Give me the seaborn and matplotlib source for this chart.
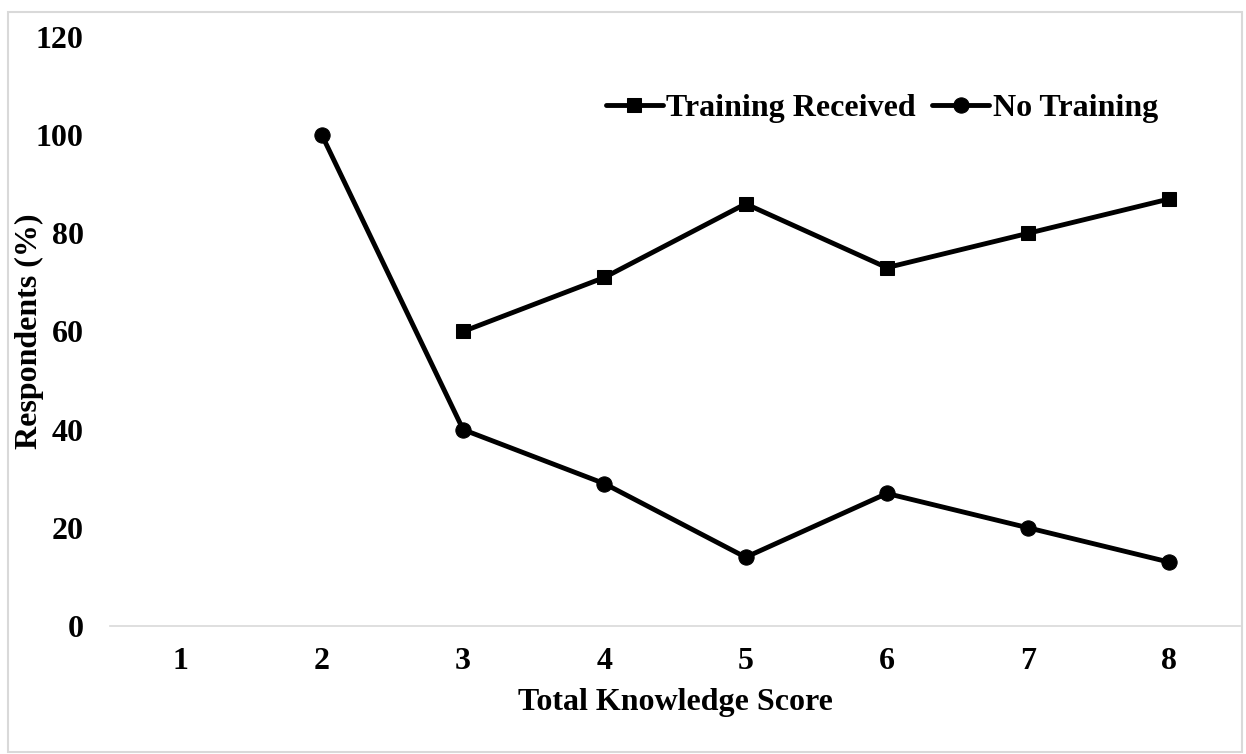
import numpy as np
import pandas as pd
import matplotlib.pyplot as plt
import seaborn as sns
from matplotlib.patches import Rectangle

# data
scores = [1, 2, 3, 4, 5, 6, 7, 8]
training_received = [np.nan, np.nan, 60, 71, 86, 73, 80, 87]
no_training = [np.nan, 100, 40, 29, 14, 27, 20, 13]

df = pd.DataFrame({
    "Score": scores,
    "Training Received": training_received,
    "No Training": no_training,
})

sns.set_theme(style="white")
plt.rcParams["font.family"] = ["Liberation Serif", "DejaVu Serif"]
plt.rcParams["font.weight"] = "bold"
plt.rcParams["text.color"] = "black"
plt.rcParams["xtick.color"] = "black"
plt.rcParams["ytick.color"] = "black"
plt.rcParams["axes.labelcolor"] = "black"

fs = 23

fig = plt.figure(figsize=(12.46, 7.54), dpi=100)
ax = fig.add_axes([0.0883, 0.1698, 0.9069, 0.7812])

sns.lineplot(data=df, x="Score", y="Training Received", ax=ax, color="black",
             linewidth=3.5, marker="s", markersize=10, markeredgecolor="black",
             label="Training Received")
sns.lineplot(data=df, x="Score", y="No Training", ax=ax, color="black",
             linewidth=3.5, marker="o", markersize=11, markeredgecolor="black",
             label="No Training")

ax.set_xlim(0.5, 8.5)
ax.set_ylim(0, 120)
ax.set_xticks(scores)
ax.set_yticks(range(0, 121, 20))
ax.tick_params(axis="both", length=0, labelsize=fs)
ax.tick_params(axis="x", pad=15)
ax.tick_params(axis="y", pad=19)
for lbl in ax.get_xticklabels() + ax.get_yticklabels():
    lbl.set_fontweight("bold")

for s in ["top", "right", "left"]:
    ax.spines[s].set_visible(False)
ax.spines["bottom"].set_color("#d9d9d9")
ax.spines["bottom"].set_linewidth(1.2)

ax.set_xlabel("Total Knowledge Score", fontsize=fs, fontweight="bold")
ax.set_ylabel("Respondents (%)", fontsize=fs, fontweight="bold")
ax.xaxis.set_label_coords(0.5, -0.106)
ax.yaxis.set_label_coords(-0.058, 0.5)

leg = ax.legend(loc="center", bbox_to_anchor=(0.683, 0.878), ncol=2, frameon=False,
                fontsize=fs, handlelength=1.8, handletextpad=0.1, columnspacing=0.5)
for t in leg.get_texts():
    t.set_fontweight("bold")

fig.patches.append(Rectangle((0.0065, 0.003), 0.99, 0.981, transform=fig.transFigure,
                             fill=False, edgecolor="#d9d9d9", linewidth=1.5))

fig.savefig("out.png", dpi=100)
